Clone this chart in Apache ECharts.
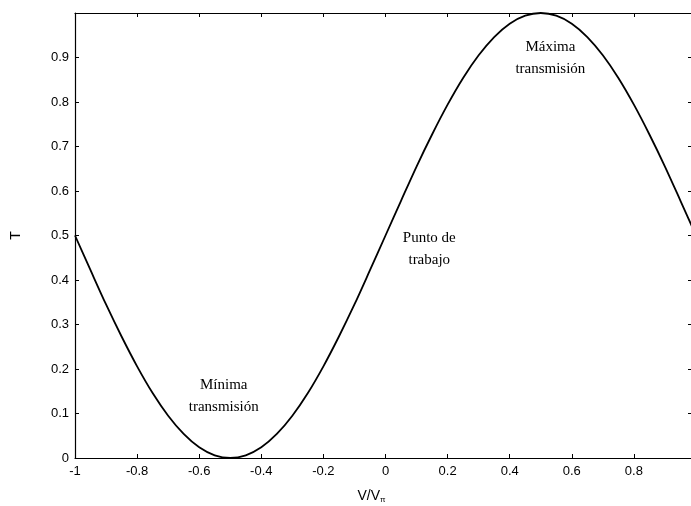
<!DOCTYPE html>
<html>
<head>
<meta charset="utf-8">
<script src="https://cdn.jsdelivr.net/npm/echarts@6/dist/echarts.min.js"></script>
<style>html,body{margin:0;padding:0;background:#fff}#c{width:691px;height:506px}</style>
</head>
<body>
<div id="c"></div>
<script>
// V/Vπ values
var vValues = [-1,-0.95,-0.9,-0.85,-0.8,-0.75,-0.7,-0.65,-0.6,-0.55,-0.5,-0.45,-0.4,-0.35,-0.3,-0.25,-0.2,-0.15,-0.1,-0.05,0,0.05,0.1,0.15,0.2,0.25,0.3,0.35,0.4,0.45,0.5,0.55,0.6,0.65,0.7,0.75,0.8,0.85,0.9,0.95,1];
// Transmission T
var tValues = [0.500,0.422,0.345,0.273,0.206,0.146,0.095,0.054,0.024,0.006,0.000,0.006,0.024,0.054,0.095,0.146,0.206,0.273,0.345,0.422,0.500,0.578,0.655,0.727,0.794,0.854,0.905,0.946,0.976,0.994,1.000,0.994,0.976,0.946,0.905,0.854,0.794,0.727,0.655,0.578,0.500];
var xTickLabels = ['-1','-0.8','-0.6','-0.4','-0.2','0','0.2','0.4','0.6','0.8',''];
var yTickLabels = ['0','0.1','0.2','0.3','0.4','0.5','0.6','0.7','0.8','0.9',''];
var annotations = [
  {text: 'Máxima\ntransmisión', v: 0.531, t: 0.898},
  {text: 'Punto de\ntrabajo', v: 0.141, t: 0.47},
  {text: 'Mínima\ntransmisión', v: -0.521, t: 0.14}
];

var chart = echarts.init(document.getElementById('c'), null, {renderer: 'canvas'});
var pts = vValues.map(function (v, i) { return [v, tValues[i]]; });
var labelFont = {color: '#000', fontFamily: 'Liberation Sans, Arial, sans-serif', fontSize: 13};
function xLab(val) {
  var idx = Math.round((val + 1) / 0.2);
  return xTickLabels[idx] !== undefined ? xTickLabels[idx] : '';
}
function yLab(val) {
  var idx = Math.round(val / 0.1);
  return yTickLabels[idx] !== undefined ? yTickLabels[idx] : '';
}
var axLine = {show: true, onZero: false, lineStyle: {color: '#000', width: 1.2}};
var axTick = {show: true, inside: true, length: 4, lineStyle: {color: '#000'}};
chart.setOption({
  animation: false,
  backgroundColor: '#fff',
  grid: {left: 75, top: 13, width: 621, height: 445, containLabel: false, outerBoundsMode: 'none'},
  xAxis: [{
    type: 'value', min: -1, max: 1, interval: 0.2, position: 'bottom',
    axisLine: axLine, axisTick: axTick, splitLine: {show: false},
    axisLabel: Object.assign({margin: 7, formatter: xLab}, labelFont),
    name: 'V/V{s|π}', nameLocation: 'middle', nameGap: 30,
    nameTextStyle: {color: '#000', fontFamily: 'Liberation Sans, Arial, sans-serif', fontSize: 14, padding: [0, 28, 0, 0],
      rich: {s: {fontSize: 8, verticalAlign: 'bottom', padding: [8, 0, 0, 0], color: '#000'}}}
  }, {
    type: 'value', min: -1, max: 1, interval: 0.2, position: 'top',
    axisLine: axLine, axisTick: axTick, splitLine: {show: false}, axisLabel: {show: false}
  }],
  yAxis: [{
    type: 'value', min: 0, max: 1, interval: 0.1, position: 'left',
    axisLine: axLine, axisTick: axTick, splitLine: {show: false},
    axisLabel: Object.assign({margin: 6, formatter: yLab}, labelFont),
    name: 'T', nameLocation: 'middle', nameGap: 52, nameRotate: 90,
    nameTextStyle: {color: '#000', fontFamily: 'Liberation Sans, Arial, sans-serif', fontSize: 14}
  }, {
    type: 'value', min: 0, max: 1, interval: 0.1, position: 'right',
    axisLine: axLine, axisTick: {show: true, inside: true, length: 8, lineStyle: {color: '#000'}},
    splitLine: {show: false}, axisLabel: {show: false}
  }],
  series: [{
    type: 'line', data: pts, smooth: 0.3, symbol: 'none', clip: true,
    lineStyle: {color: '#000', width: 1.8},
    markPoint: {
      symbol: 'circle', symbolSize: 0,
      label: {show: true, position: 'inside', color: '#000', fontFamily: 'Liberation Serif, Times New Roman, serif', fontSize: 15, lineHeight: 22, align: 'center', verticalAlign: 'middle',
        formatter: function (p) { return p.name; }},
      data: annotations.map(function (a) { return {name: a.text, coord: [a.v, a.t]}; })
    }
  }]
});
</script>
</body>
</html>
